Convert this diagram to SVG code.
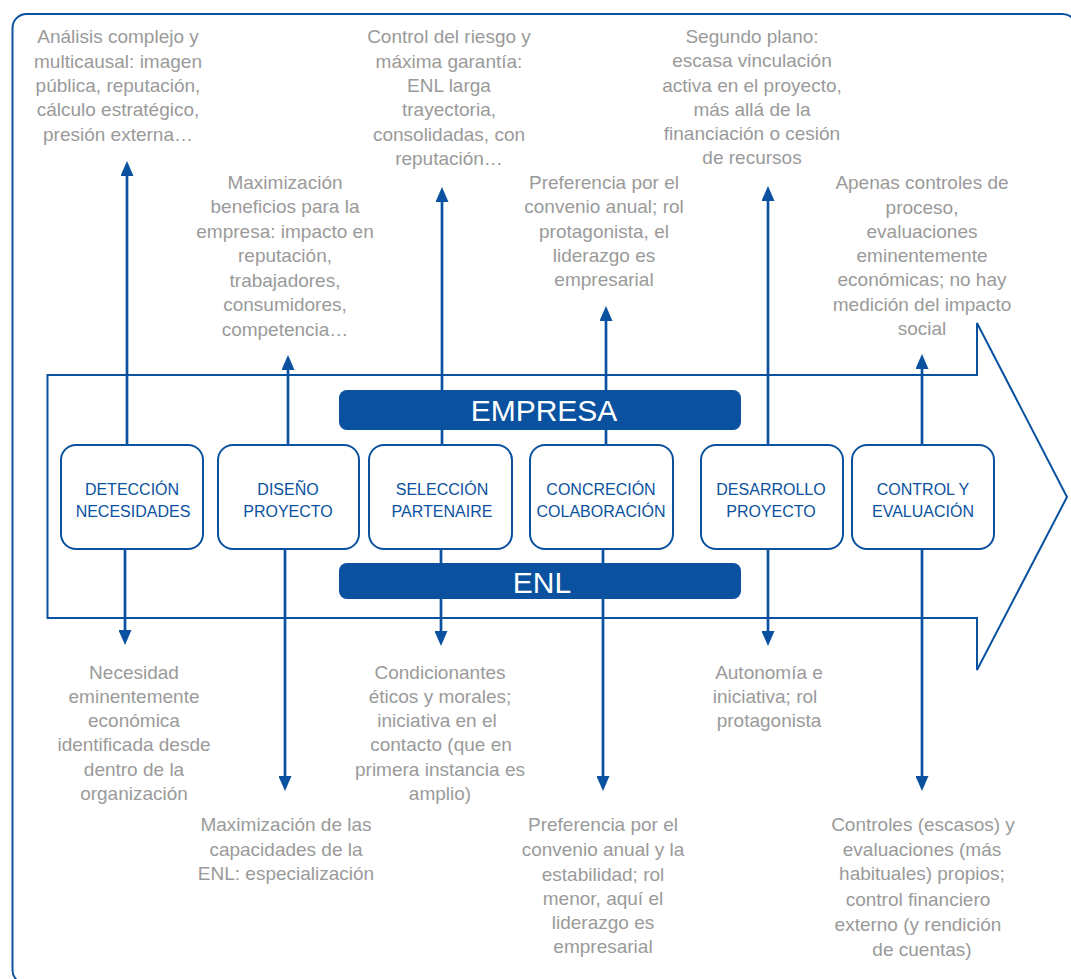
<svg xmlns="http://www.w3.org/2000/svg" width="1071" height="979" viewBox="0 0 1071 979">
  <style>
    .frame { fill: none; stroke: #0a52a0; stroke-width: 2; }
    .flow { fill: none; stroke: #0a52a0; stroke-width: 2; stroke-linejoin: miter; }
    .step { fill: #ffffff; stroke: #0a52a0; stroke-width: 2; }
    .step-text { font-family: "Liberation Sans", Arial, sans-serif; font-size: 16px; fill: #0a52a0; text-anchor: middle; }
    .bar { fill: #0a52a0; }
    .bar-text { font-family: "Liberation Sans", Arial, sans-serif; font-size: 30px; fill: #ffffff; text-anchor: middle; }
    .note { font-family: "Liberation Sans", Arial, sans-serif; font-size: 19px; fill: #9a9a9a; text-anchor: middle; }
    .link { stroke: #0a52a0; stroke-width: 2.7; fill: none; marker-end: url(#head); }
  </style>
  <defs>
    <marker id="head" viewBox="0 0 15 13" refX="1" refY="6.5" markerWidth="15" markerHeight="13" markerUnits="userSpaceOnUse" orient="auto">
      <path d="M0,0 L15,6.5 L0,13 z" fill="#0a52a0"/>
    </marker>
  </defs>

  <!-- outer frame -->
  <rect class="frame" x="12.5" y="14" width="1064" height="970" rx="14" ry="14"/>

  <!-- large process arrow -->
  <g id="process-arrow">
    <polygon class="flow" points="47.5,375 977,375 977,323 1067,497 977,670 977,618 47.5,618"/>
  </g>

  <!-- connectors: up to company notes, down to ENL notes -->
  <g id="connectors">
    <line class="link" x1="127" y1="445" x2="127" y2="175"/>
    <line class="link" x1="125" y1="549" x2="125" y2="631"/>
    <line class="link" x1="288" y1="445" x2="288" y2="369"/>
    <line class="link" x1="285" y1="549" x2="285" y2="777"/>
    <line class="link" x1="442" y1="445" x2="442" y2="201"/>
    <line class="link" x1="441" y1="549" x2="441" y2="632"/>
    <line class="link" x1="606" y1="445" x2="606" y2="320"/>
    <line class="link" x1="603" y1="549" x2="603" y2="777"/>
    <line class="link" x1="768" y1="445" x2="768" y2="200"/>
    <line class="link" x1="768" y1="549" x2="768" y2="632"/>
    <line class="link" x1="922" y1="445" x2="922" y2="368"/>
    <line class="link" x1="922" y1="549" x2="922" y2="777"/>
  </g>

  <!-- actor bars -->
  <g id="bar-empresa">
    <rect class="bar" x="339" y="390" width="402" height="40" rx="8" ry="8"/>
    <text class="bar-text" x="544" y="421">EMPRESA</text>
  </g>
  <g id="bar-enl">
    <rect class="bar" x="339" y="563" width="402" height="36" rx="8" ry="8"/>
    <text class="bar-text" x="542" y="593">ENL</text>
  </g>

  <!-- process steps -->
  <g id="step-deteccion">
    <rect class="step" x="61" y="445" width="142" height="104" rx="15" ry="15"/>
    <text class="step-text" x="132" y="495">DETECCIÓN</text>
    <text class="step-text" x="133" y="517">NECESIDADES</text>
  </g>
  <g id="step-diseno">
    <rect class="step" x="218" y="445" width="141" height="104" rx="15" ry="15"/>
    <text class="step-text" x="288" y="495">DISEÑO</text>
    <text class="step-text" x="288" y="517">PROYECTO</text>
  </g>
  <g id="step-seleccion">
    <rect class="step" x="369" y="445" width="143" height="104" rx="15" ry="15"/>
    <text class="step-text" x="442" y="495">SELECCIÓN</text>
    <text class="step-text" x="442" y="517">PARTENAIRE</text>
  </g>
  <g id="step-concrecion">
    <rect class="step" x="530" y="445" width="143" height="104" rx="15" ry="15"/>
    <text class="step-text" x="601" y="495">CONCRECIÓN</text>
    <text class="step-text" x="601" y="517">COLABORACIÓN</text>
  </g>
  <g id="step-desarrollo">
    <rect class="step" x="701" y="445" width="142" height="104" rx="15" ry="15"/>
    <text class="step-text" x="771" y="495">DESARROLLO</text>
    <text class="step-text" x="771" y="517">PROYECTO</text>
  </g>
  <g id="step-control">
    <rect class="step" x="852" y="445" width="142" height="104" rx="15" ry="15"/>
    <text class="step-text" x="923" y="495">CONTROL Y</text>
    <text class="step-text" x="923" y="517">EVALUACIÓN</text>
  </g>

  <!-- company-side notes -->
  <g id="note-empresa-deteccion">
    <text class="note" x="118" y="43">Análisis complejo y</text>
    <text class="note" x="118" y="67.5">multicausal: imagen</text>
    <text class="note" x="118" y="92">pública, reputación,</text>
    <text class="note" x="118" y="116">cálculo estratégico,</text>
    <text class="note" x="118" y="140.5">presión externa…</text>
  </g>
  <g id="note-empresa-diseno">
    <text class="note" x="285" y="189">Maximización</text>
    <text class="note" x="285" y="213">beneficios para la</text>
    <text class="note" x="285" y="237.5">empresa: impacto en</text>
    <text class="note" x="285" y="262">reputación,</text>
    <text class="note" x="285" y="286.5">trabajadores,</text>
    <text class="note" x="285" y="311">consumidores,</text>
    <text class="note" x="285" y="335.5">competencia…</text>
  </g>
  <g id="note-empresa-seleccion">
    <text class="note" x="449" y="43">Control del riesgo y</text>
    <text class="note" x="449" y="67.5">máxima garantía:</text>
    <text class="note" x="449" y="92">ENL larga</text>
    <text class="note" x="449" y="116">trayectoria,</text>
    <text class="note" x="449" y="140.5">consolidadas, con</text>
    <text class="note" x="449" y="164.5">reputación…</text>
  </g>
  <g id="note-empresa-concrecion">
    <text class="note" x="604" y="189">Preferencia por el</text>
    <text class="note" x="604" y="213">convenio anual; rol</text>
    <text class="note" x="604" y="237.5">protagonista, el</text>
    <text class="note" x="604" y="262">liderazgo es</text>
    <text class="note" x="604" y="286">empresarial</text>
  </g>
  <g id="note-empresa-desarrollo">
    <text class="note" x="752" y="43">Segundo plano:</text>
    <text class="note" x="752" y="67">escasa vinculación</text>
    <text class="note" x="752" y="92">activa en el proyecto,</text>
    <text class="note" x="752" y="116">más allá de la</text>
    <text class="note" x="752" y="140">financiación o cesión</text>
    <text class="note" x="752" y="164">de recursos</text>
  </g>
  <g id="note-empresa-control">
    <text class="note" x="922" y="189">Apenas controles de</text>
    <text class="note" x="922" y="213.5">proceso,</text>
    <text class="note" x="922" y="238">evaluaciones</text>
    <text class="note" x="922" y="262">eminentemente</text>
    <text class="note" x="922" y="286">económicas; no hay</text>
    <text class="note" x="922" y="311">medición del impacto</text>
    <text class="note" x="922" y="335">social</text>
  </g>

  <!-- ENL-side notes -->
  <g id="note-enl-deteccion">
    <text class="note" x="134" y="679">Necesidad</text>
    <text class="note" x="134" y="703">eminentemente</text>
    <text class="note" x="134" y="727">económica</text>
    <text class="note" x="134" y="751">identificada desde</text>
    <text class="note" x="134" y="776">dentro de la</text>
    <text class="note" x="134" y="800">organización</text>
  </g>
  <g id="note-enl-diseno">
    <text class="note" x="286" y="831">Maximización de las</text>
    <text class="note" x="286" y="856">capacidades de la</text>
    <text class="note" x="286" y="880">ENL: especialización</text>
  </g>
  <g id="note-enl-seleccion">
    <text class="note" x="440" y="679">Condicionantes</text>
    <text class="note" x="440" y="703">éticos y morales;</text>
    <text class="note" x="437" y="727">iniciativa en el</text>
    <text class="note" x="441" y="751">contacto (que en</text>
    <text class="note" x="440" y="776">primera instancia es</text>
    <text class="note" x="440" y="800">amplio)</text>
  </g>
  <g id="note-enl-concrecion">
    <text class="note" x="603" y="831">Preferencia por el</text>
    <text class="note" x="603" y="856">convenio anual y la</text>
    <text class="note" x="603" y="881">estabilidad; rol</text>
    <text class="note" x="603" y="905">menor, aquí el</text>
    <text class="note" x="603" y="929">liderazgo es</text>
    <text class="note" x="603" y="953">empresarial</text>
  </g>
  <g id="note-enl-desarrollo">
    <text class="note" x="769" y="679">Autonomía e</text>
    <text class="note" x="765" y="703">iniciativa; rol</text>
    <text class="note" x="769" y="727">protagonista</text>
  </g>
  <g id="note-enl-control">
    <text class="note" x="923" y="831">Controles (escasos) y</text>
    <text class="note" x="922" y="856">evaluaciones (más</text>
    <text class="note" x="922" y="880">habituales) propios;</text>
    <text class="note" x="918" y="906">control financiero</text>
    <text class="note" x="918" y="931">externo (y rendición</text>
    <text class="note" x="922" y="956">de cuentas)</text>
  </g>
</svg>
